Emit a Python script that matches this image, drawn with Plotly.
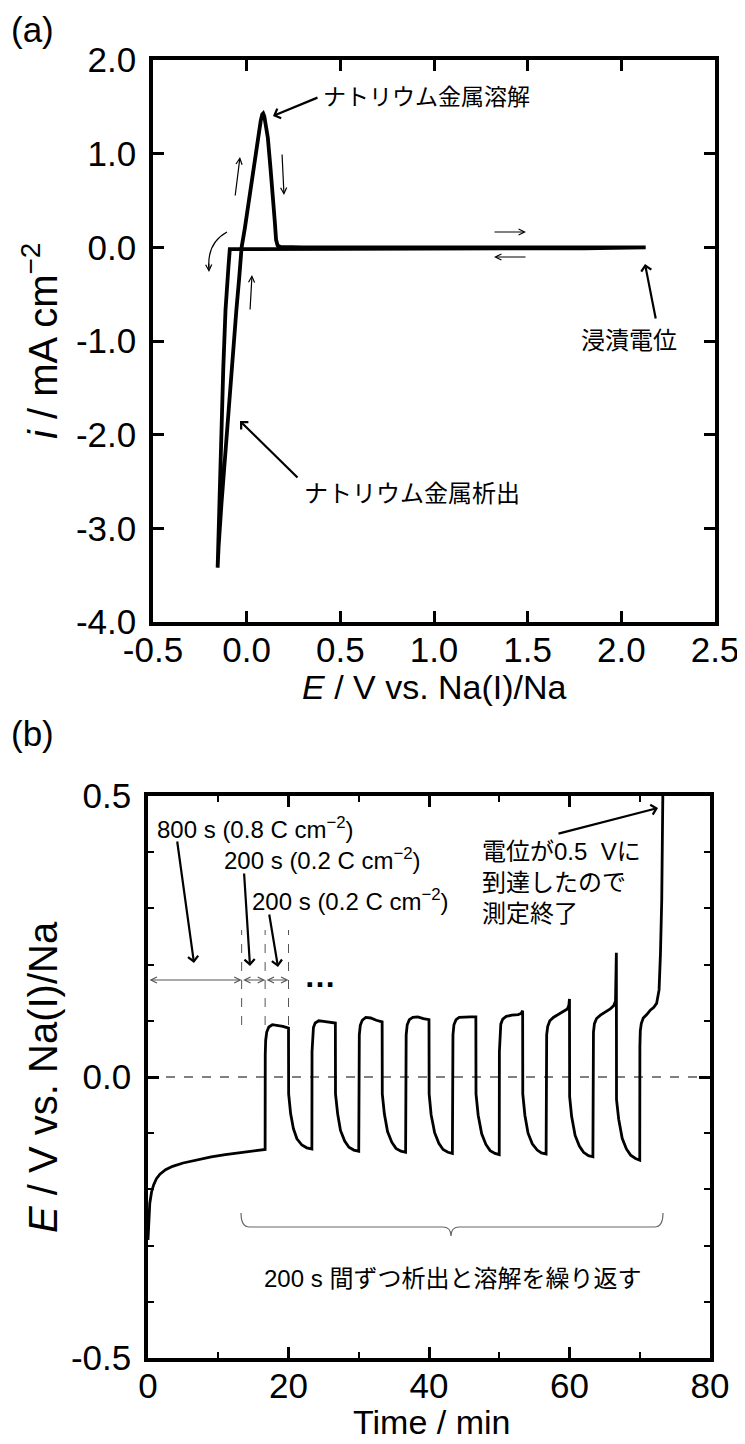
import plotly.graph_objects as go

# ---------------- data: (a) cyclic voltammogram ----------------
cv_E = [2.13, 1.8, 1.4, 1.0, 0.6, 0.3, 0.1, -0.05, -0.09, -0.097, -0.105, -0.113,
        -0.125, -0.135, -0.144, -0.151, -0.155, -0.150, -0.135, -0.115, -0.095,
        -0.075, -0.055, -0.040, -0.027, -0.010, 0.016, 0.040, 0.060, 0.075, 0.083,
        0.088, 0.094, 0.103, 0.113, 0.127, 0.140, 0.150, 0.157, 0.165, 0.180, 0.3,
        0.6, 1.0, 1.4, 1.8, 2.13]
cv_i = [0.0, -0.01, -0.01, -0.01, -0.01, -0.01, -0.01, -0.01, -0.02, -0.2, -0.45,
        -0.67, -1.3, -2.0, -2.7, -3.25, -3.42, -3.2, -2.75, -2.2, -1.65, -1.15,
        -0.67, -0.33, 0.0, 0.2, 0.57, 0.9, 1.17, 1.35, 1.42, 1.43, 1.40, 1.30, 1.17,
        0.85, 0.57, 0.28, 0.08, 0.02, 0.005, 0.0, 0.0, 0.0, 0.0, 0.0, 0.0]

cv_xticks = [-0.5, 0.0, 0.5, 1.0, 1.5, 2.0, 2.5]
cv_xlabels = ["-0.5", "0.0", "0.5", "1.0", "1.5", "2.0", "2.5"]
cv_yticks = [-4, -3, -2, -1, 0, 1, 2]
cv_ylabels = ["-4.0", "-3.0", "-2.0", "-1.0", "0.0", "1.0", "2.0"]

# ---------------- data: (b) chronopotentiogram ----------------
t_min = [
    0.0, 0.1, 0.25, 0.5, 0.8, 1.2, 1.7, 2.5, 3.5, 5.0, 7.0, 9.0, 11.0, 13.0, 15.0, 16.67,
    16.69, 16.75, 16.9, 17.2, 17.7, 18.3, 19.2, 20.0,
    20.02, 20.3, 20.7, 21.2, 21.9, 22.6, 23.33,
    23.35, 23.41, 23.55, 23.8, 24.3, 25.0, 25.9, 26.67,
    26.69, 27.0, 27.4, 28.0, 28.6, 29.3, 30.0,
    30.02, 30.08, 30.22, 30.5, 31.0, 31.7, 32.5, 33.33,
    33.35, 33.65, 34.1, 34.7, 35.3, 36.0, 36.67,
    36.69, 36.75, 36.9, 37.2, 37.7, 38.4, 39.2, 40.0,
    40.02, 40.3, 40.8, 41.4, 42.0, 42.7, 43.33,
    43.35, 43.41, 43.55, 43.85, 44.3, 45.0, 45.9, 46.67,
    46.69, 47.0, 47.5, 48.1, 48.7, 49.4, 50.0,
    50.02, 50.08, 50.22, 50.5, 51.0, 51.8, 52.7, 53.1, 53.33,
    53.35, 53.65, 54.1, 54.7, 55.4, 56.0, 56.67,
    56.69, 56.75, 56.9, 57.2, 57.7, 58.4, 59.2, 59.7, 59.9, 60.0,
    60.02, 60.3, 60.8, 61.4, 62.0, 62.7, 63.33,
    63.35, 63.41, 63.55, 63.85, 64.4, 65.1, 65.8, 66.3, 66.55, 66.67,
    66.69, 67.0, 67.5, 68.1, 68.7, 69.4, 70.0,
    70.02, 70.08, 70.22, 70.5, 71.0, 71.5, 72.0, 72.4, 72.75, 72.95, 73.13, 73.22, 73.3,
]
E_V = [
    -0.29, -0.25, -0.225, -0.205, -0.192, -0.181, -0.173, -0.165, -0.159, -0.153, -0.147,
    -0.142, -0.138, -0.135, -0.132, -0.129,
    0.040, 0.065, 0.080, 0.089, 0.093, 0.092, 0.090, 0.087,
    -0.030, -0.065, -0.092, -0.110, -0.121, -0.126, -0.128,
    0.045, 0.072, 0.088, 0.096, 0.100, 0.099, 0.098, 0.096,
    -0.030, -0.066, -0.095, -0.114, -0.125, -0.130, -0.132,
    0.045, 0.075, 0.092, 0.101, 0.106, 0.105, 0.101, 0.098,
    -0.030, -0.066, -0.097, -0.116, -0.127, -0.132, -0.134,
    0.045, 0.075, 0.093, 0.102, 0.106, 0.107, 0.104, 0.102,
    -0.030, -0.067, -0.099, -0.118, -0.129, -0.134, -0.136,
    0.045, 0.075, 0.093, 0.102, 0.106, 0.107, 0.107, 0.107,
    -0.030, -0.068, -0.101, -0.120, -0.131, -0.136, -0.138,
    0.045, 0.075, 0.094, 0.103, 0.108, 0.110, 0.111, 0.113, 0.118,
    -0.030, -0.068, -0.100, -0.119, -0.130, -0.135, -0.137,
    0.050, 0.075, 0.090, 0.100, 0.106, 0.111, 0.117, 0.121, 0.127, 0.139,
    -0.035, -0.070, -0.104, -0.123, -0.134, -0.140, -0.142,
    0.055, 0.080, 0.095, 0.104, 0.110, 0.116, 0.121, 0.127, 0.135, 0.221,
    -0.040, -0.075, -0.109, -0.128, -0.139, -0.145, -0.148,
    0.055, 0.082, 0.095, 0.105, 0.111, 0.119, 0.124, 0.131, 0.155, 0.22, 0.315, 0.42, 0.52,
]

tp_xticks = [0, 20, 40, 60, 80]
tp_xlabels = ["0", "20", "40", "60", "80"]
tp_yticks = [-0.5, 0.0, 0.5]
tp_ylabels = ["-0.5", "0.0", "0.5"]
step_marks = [13.33, 16.67, 20.0]   # 800 s, +200 s, +200 s

# ---------------- geometry helpers ----------------
# the page body has an 8 px margin, so the figure is drawn 8 px in from the corner
OFF = 8
W, H = 745 - OFF, 1444 - OFF
FONT = "Liberation Sans, Arial, Noto Sans CJK JP, sans-serif"
TICKF = 35
TITLEF = 34
YTITLEF = 40
ANNF = 24


def px(x):
    return (x - OFF) / W


def py(y):
    return 1 - (y - OFF) / H


# top panel pixel box: x 153..715, y 60..622
def a_x(p):
    return -0.5 + (p - 153) / (562 / 3)


def a_y(p):
    return (60 + 2 * 562 / 6 - p) / (562 / 6)


# bottom panel pixel box: x 148..710, y 796..1358
def b_x(p):
    return (p - 148) / (562 / 80)


def b_y(p):
    return (1077 - p) / 562


fig = go.Figure()
fig.add_trace(go.Scatter(x=cv_E, y=cv_i, mode="lines",
                         line=dict(color="black", width=3.8), xaxis="x", yaxis="y",
                         showlegend=False))
fig.add_trace(go.Scatter(x=t_min, y=E_V, mode="lines",
                         line=dict(color="black", width=2.8), xaxis="x2", yaxis="y2",
                         showlegend=False, cliponaxis=True))

axis_common = dict(showline=True, linewidth=3.5, linecolor="black", mirror="ticks",
                   ticks="inside", ticklen=11, tickwidth=3, tickcolor="black",
                   showgrid=False, zeroline=False, automargin=False,
                   tickfont=dict(family=FONT, size=TICKF, color="black"))
xax = dict(axis_common, ticklabelstandoff=-6)
yax = dict(axis_common, ticklabelstandoff=6)

fig.update_layout(
    width=W, height=H, margin=dict(l=0, r=0, t=0, b=0, pad=0, autoexpand=False),
    paper_bgcolor="white", plot_bgcolor="white",
    font=dict(family=FONT, color="black"),
    xaxis=dict(domain=[px(153), px(715)], range=[-0.5, 2.5], anchor="y",
               tickvals=cv_xticks, ticktext=cv_xlabels, **xax),
    yaxis=dict(domain=[py(622), py(60)], range=[-4, 2], anchor="x",
               tickvals=cv_yticks, ticktext=cv_ylabels, **yax),
    xaxis2=dict(domain=[px(148), px(710)], range=[0, 80], anchor="y2",
                tickvals=tp_xticks, ticktext=tp_xlabels,
                minor=dict(ticks="inside", ticklen=6, tickwidth=2, dtick=10, tick0=0,
                           tickcolor="black", showgrid=False),
                **xax),
    yaxis2=dict(domain=[py(1358), py(796)], range=[-0.5, 0.5], anchor="x2",
                tickvals=tp_yticks, ticktext=tp_ylabels,
                minor=dict(ticks="inside", ticklen=6, tickwidth=2, dtick=0.1, tick0=0,
                           tickcolor="black", showgrid=False),
                **yax),
)

ann = []
shapes = []


def text(x, y, s, size=ANNF, xanchor="left", **kw):
    ann.append(dict(xref="paper", yref="paper", x=px(x), y=py(y), text=s,
                    showarrow=False, xanchor=xanchor, yanchor="middle",
                    font=dict(family=FONT, size=size, color="black"), **kw))


def arrow(panel, x0, y0, x1, y1, width=1.2, head=5, size=1.0, color="black",
          side="end"):
    if panel == "a":
        cx, cy, xr, yr = a_x, a_y, "x", "y"
    else:
        cx, cy, xr, yr = b_x, b_y, "x2", "y2"
    ann.append(dict(xref=xr, yref=yr, axref=xr, ayref=yr,
                    x=cx(x1), y=cy(y1), ax=cx(x0), ay=cy(y0), text="",
                    showarrow=True, arrowhead=head, arrowsize=size,
                    arrowwidth=width, arrowcolor=color, arrowside=side,
                    startarrowhead=head, startarrowsize=size))


# panel labels and axis titles
text(9, 30, "(a)", size=35)
text(9, 733, "(b)", size=35)
text(434, 687, "<i>E</i> / V vs. Na(I)/Na", size=TITLEF, xanchor="center")
ann.append(dict(xref="paper", yref="paper", x=px(40), y=py(341),
                text="<i>i</i> / mA cm<sup>−2</sup>", showarrow=False, textangle=-90,
                xanchor="center", yanchor="middle",
                font=dict(family=FONT, size=YTITLEF, color="black")))
ann.append(dict(xref="paper", yref="paper", x=px(43), y=py(1077),
                text="<i>E</i> / V vs. Na(I)/Na", showarrow=False, textangle=-90,
                xanchor="center", yanchor="middle",
                font=dict(family=FONT, size=YTITLEF, color="black")))
text(431, 1422, "Time / min", size=TITLEF, xanchor="center")

# ---- (a) annotations ----
text(321, 97, "ナトリウム金属溶解", size=23)
arrow("a", 319, 97, 273, 116, width=2.2, head=4, size=0.9)
text(629, 340, "浸漬電位", size=ANNF, xanchor="center")
arrow("a", 656, 320, 645, 264, width=2.2, head=4, size=0.9)
text(302, 493, "ナトリウム金属析出", size=ANNF)
arrow("a", 299, 479, 240, 421, width=2.2, head=4, size=0.9)
# thin direction arrows
arrow("a", 235, 197, 240, 157)
arrow("a", 282, 153, 284, 195)
arrow("a", 250, 311, 252, 275)
arrow("a", 493, 232, 526, 232)
arrow("a", 527, 257, 494, 257)
# curved arrow
shapes.append(dict(type="path", xref="x", yref="y",
                   path="M {:.4f},{:.4f} Q {:.4f},{:.4f} {:.4f},{:.4f}".format(
                       a_x(227), a_y(232), a_x(207), a_y(243), a_x(209), a_y(268)),
                   line=dict(color="black", width=1.2)))
arrow("a", 208.6, 262, 209, 272)

# ---- (b) annotations ----
shapes.append(dict(type="line", xref="x2", yref="y2", x0=0, x1=80, y0=0, y1=0,
                   line=dict(color="black", width=1, dash="dash")))
for tm in step_marks:
    shapes.append(dict(type="line", xref="x2", yref="y2", x0=tm, x1=tm,
                       y0=b_y(1025), y1=b_y(930),
                       line=dict(color="#555555", width=1, dash="dash")))
prev = 0.0
for tm in step_marks:
    ann.append(dict(xref="x2", yref="y2", axref="x2", ayref="y2",
                    x=tm, y=b_y(980), ax=prev, ay=b_y(980), text="",
                    showarrow=True, arrowhead=5, startarrowhead=5, arrowside="end+start",
                    arrowsize=1.2, startarrowsize=1.2, arrowwidth=1,
                    arrowcolor="#555555"))
    prev = tm
text(302, 976, "<b>…</b>", size=32)

text(155, 828, "800 s (0.8 C cm<sup>−2</sup>)", size=ANNF)
text(222, 859, "200 s (0.2 C cm<sup>−2</sup>)", size=ANNF)
text(250, 900, "200 s (0.2 C cm<sup>−2</sup>)", size=ANNF)
arrow("b", 177, 840, 194, 963, width=2.2, head=4, size=0.9)
arrow("b", 244, 872, 250, 966, width=2.2, head=4, size=0.9)
arrow("b", 269, 913, 278, 967, width=2.2, head=4, size=0.9)

ann.append(dict(xref="paper", yref="paper", x=px(480), y=py(882),
                text="電位が0.5  Vに<br>到達したので<br>測定終了", showarrow=False,
                xanchor="left", yanchor="middle", align="left",
                font=dict(family=FONT, size=ANNF, color="black")))
arrow("b", 557, 834, 658, 808, width=2.2, head=4, size=0.9)

xl, xm, xr = b_x(241), b_x(451), b_x(663)
yt, yb, yc = b_y(1213), b_y(1227), b_y(1236)
brace = ("M {xl},{yt} Q {xl},{yb} {xl2},{yb} L {xm1},{yb} Q {xm},{yb} {xm},{yc} "
         "Q {xm},{yb} {xm2},{yb} L {xr1},{yb} Q {xr},{yb} {xr},{yt}").format(
    xl=xl, yt=yt, yb=yb, xl2=xl + 1.2, xm1=xm - 1.2, xm=xm, yc=yc, xm2=xm + 1.2,
    xr1=xr - 1.2, xr=xr)
shapes.append(dict(type="path", xref="x2", yref="y2", path=brace,
                   line=dict(color="#666666", width=1.2)))
text(452, 1278, "200 s 間ずつ析出と溶解を繰り返す", size=ANNF, xanchor="center")

fig.update_layout(annotations=ann, shapes=shapes)
fig.write_html("out.html")
